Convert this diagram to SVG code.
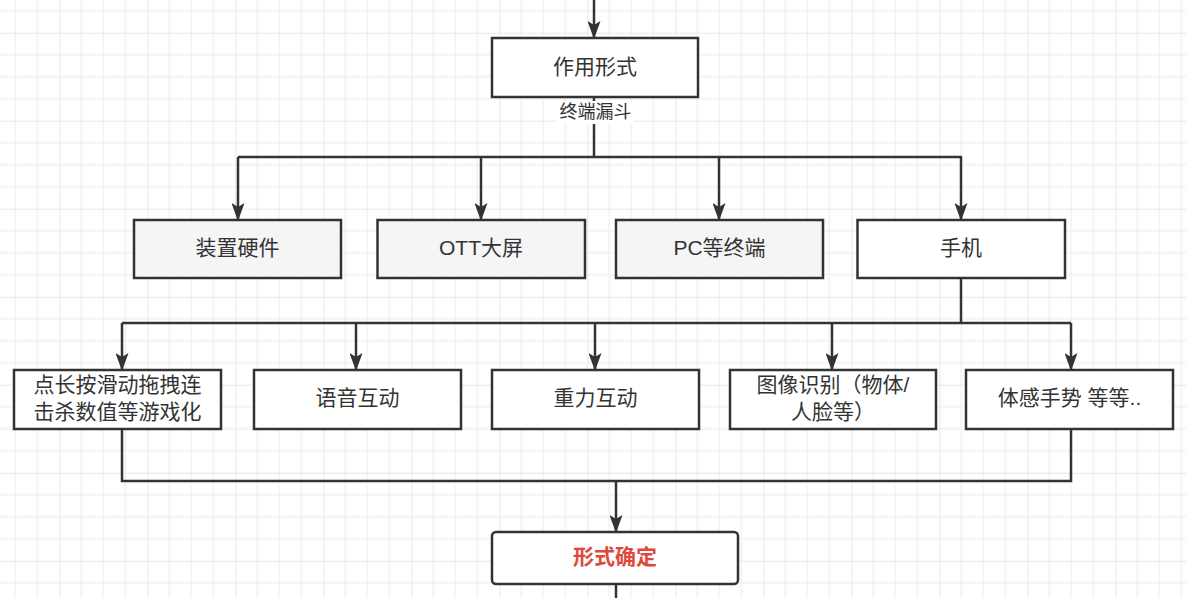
<svg xmlns="http://www.w3.org/2000/svg" width="1186" height="598" viewBox="0 0 1186 598">
<defs>
<pattern id="grid" patternUnits="userSpaceOnUse" x="59.3" y="32.7" width="88" height="88">
<path d="M22,0 V88 M44,0 V88 M66,0 V88 M0,22 H88 M0,44 H88 M0,66 H88" stroke="#f1f1f1" stroke-width="1.6" fill="none"/>
<path d="M0,0 V88 M0,0 H88" stroke="#e6e6e6" stroke-width="1.8" fill="none"/>
</pattern>
<marker id="arr" markerUnits="userSpaceOnUse" viewBox="0 0 18 13" markerWidth="18" markerHeight="13" refX="17" refY="6.5" orient="auto">
<path d="M0,0 L18,6.5 L0,13 L4,6.5 Z" fill="#333"/>
</marker>
</defs>
<style>
.box{fill:#fff;stroke:#333;stroke-width:2.5}
.gray{fill:#f5f5f5}
.t{font-family:"Liberation Sans","Noto Sans CJK SC",sans-serif;font-size:21px;fill:#333;text-anchor:middle;dominant-baseline:central}
.lbl{font-size:18px}
.red{fill:#e0483a;font-weight:bold}
.c{fill:none;stroke:#333;stroke-width:2.5}
.a{marker-end:url(#arr)}
</style>
<rect width="1186" height="598" fill="#fff"/>
<rect width="1186" height="598" fill="url(#grid)"/>
<g id="connectors">
<path class="c a" d="M594,0 V38"/>
<path class="c" d="M594,97 V157"/>
<path class="c" d="M238,157 H962"/>
<path class="c a" d="M238,157 V220"/>
<path class="c a" d="M481,157 V220"/>
<path class="c a" d="M719,157 V220"/>
<path class="c a" d="M961,157 V220"/>
<path class="c" d="M961,278 V323"/>
<path class="c" d="M122,323 H1071"/>
<path class="c a" d="M122,323 V370"/>
<path class="c a" d="M356,323 V370"/>
<path class="c a" d="M595,323 V370"/>
<path class="c a" d="M832,323 V370"/>
<path class="c a" d="M1071,323 V370"/>
<path class="c" d="M122,429 V481 H1071 V429"/>
<path class="c a" d="M616,481 V532"/>
<path class="c" d="M616,584 V598"/>
<rect x="557" y="101" width="77" height="23" fill="#fff"/>
<text class="t lbl" x="595.5" y="111.5">终端漏斗</text>
</g>
<g id="n1"><rect class="box" x="492" y="38" width="206" height="59"/><text class="t" x="595" y="66">作用形式</text></g>
<g id="n2"><rect class="box gray" x="134" y="220" width="207" height="58"/><text class="t" x="237.5" y="247">装置硬件</text></g>
<g id="n3"><rect class="box gray" x="377.5" y="220" width="207.5" height="58"/><text class="t" x="481" y="247">OTT大屏</text></g>
<g id="n4"><rect class="box gray" x="616" y="220" width="207" height="58"/><text class="t" x="719.5" y="247">PC等终端</text></g>
<g id="n5"><rect class="box" x="857.5" y="220" width="207.5" height="58"/><text class="t" x="961" y="247">手机</text></g>
<g id="n6"><rect class="box" x="14" y="370" width="207" height="59"/><text class="t" x="117.5" y="384.5">点长按滑动拖拽连</text><text class="t" x="117.5" y="411.5">击杀数值等游戏化</text></g>
<g id="n7"><rect class="box" x="254" y="370" width="207" height="59"/><text class="t" x="357.5" y="397.5">语音互动</text></g>
<g id="n8"><rect class="box" x="492" y="370" width="207" height="59"/><text class="t" x="595.5" y="397.5">重力互动</text></g>
<g id="n9"><rect class="box" x="730" y="370" width="206" height="59"/><text class="t" x="833" y="384.5">图像识别（物体/</text><text class="t" x="833" y="411.5">人脸等）</text></g>
<g id="n10"><rect class="box" x="966" y="370" width="207" height="59"/><text class="t" x="1069.5" y="397.5">体感手势 等等..</text></g>
<g id="n11"><rect class="box" x="492" y="532" width="246" height="52" rx="4"/><text class="t red" x="615" y="556.5">形式确定</text></g>
</svg>
